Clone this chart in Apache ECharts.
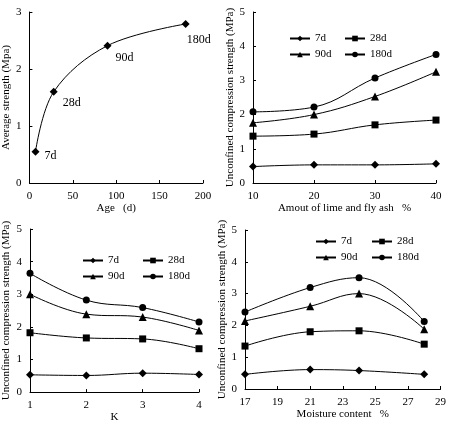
<!DOCTYPE html>
<html>
<head>
<meta charset="utf-8">
<script src="https://cdn.jsdelivr.net/npm/echarts@6/dist/echarts.min.js"></script>
<style>
  html, body { margin: 0; padding: 0; background: #fff; }
  #chart { width: 449px; height: 424px; }
</style>
</head>
<body>
<div id="chart"></div>
<script>
// panel a: strength vs age
var ageDays = [7, 28, 90, 180]
var ageStrength = [0.55, 1.6, 2.41, 2.79]
var ageLabels = ['7d', '28d', '90d', '180d']

var seriesNames = ['7d', '28d', '90d', '180d']

// panel b: amount of lime and fly ash
var dosage = [10, 20, 30, 40]
var dosage7d = [0.48, 0.53, 0.53, 0.56]
var dosage28d = [1.37, 1.43, 1.7, 1.84]
var dosage90d = [1.76, 2.0, 2.53, 3.25]
var dosage180d = [2.08, 2.22, 3.07, 3.76]

// panel c: K
var kValues = [1, 2, 3, 4]
var k7d = [0.53, 0.51, 0.58, 0.54]
var k28d = [1.82, 1.66, 1.63, 1.33]
var k90d = [3.0, 2.39, 2.3, 1.89]
var k180d = [3.64, 2.82, 2.59, 2.15]

// panel d: moisture content
var moisture = [17, 21, 24, 28]
var moist7d = [0.46, 0.61, 0.58, 0.46]
var moist28d = [1.35, 1.8, 1.83, 1.41]
var moist90d = [2.14, 2.6, 3.0, 1.88]
var moist180d = [2.42, 3.19, 3.5, 2.12]

var font = 'Liberation Serif'
var symbols = ['diamond', 'rect', 'triangle', 'circle']
var symbolSizes = [8, 7, 8, 7]

function pairs(xs, ys) {
  return xs.map(function (x, i) { return [x, ys[i]] })
}

function axisX(idx, min, max, interval, name, gap) {
  return {
    type: 'value', gridIndex: idx, min: min, max: max, interval: interval,
    name: name, nameLocation: 'middle', nameGap: gap,
    nameTextStyle: { color: '#000', fontFamily: font, fontSize: 11 },
    axisLine: { lineStyle: { color: '#000', width: 1 } },
    axisTick: { inside: true, length: 3, lineStyle: { color: '#000' } },
    axisLabel: { color: '#000', fontFamily: font, fontSize: 11, margin: 8 },
    splitLine: { show: false }
  }
}

function axisY(idx, max, name, gap) {
  return {
    type: 'value', gridIndex: idx, min: 0, max: max, interval: 1,
    name: name, nameLocation: 'middle', nameGap: gap, nameRotate: 90,
    nameTextStyle: { color: '#000', fontFamily: font, fontSize: 11 },
    axisLine: { show: true, lineStyle: { color: '#000', width: 1 } },
    axisTick: { show: true, inside: true, length: 3, lineStyle: { color: '#000' } },
    axisLabel: { color: '#000', fontFamily: font, fontSize: 11, margin: 8 },
    splitLine: { show: false }
  }
}

function lineSeries(idx, name, k, xs, ys) {
  return {
    name: name, type: 'line', xAxisIndex: idx, yAxisIndex: idx,
    data: pairs(xs, ys), smooth: 0.4,
    symbol: symbols[k], symbolSize: symbolSizes[k],
    lineStyle: { color: '#000', width: 1 },
    itemStyle: { color: '#000' },
    animation: false
  }
}

function legendPair(names, left, top) {
  return {
    data: names, left: left, top: top, orient: 'vertical',
    itemWidth: 20, itemHeight: 7, itemGap: 5,
    textStyle: { color: '#000', fontFamily: font, fontSize: 11 },
    selectedMode: false
  }
}

var labelOffsets = [[0, 4], [0, 11], [-1, 12], [-8, 16]]

var chart = echarts.init(document.getElementById('chart'))
var option = {
  backgroundColor: '#fff',
  animation: false,
  grid: [
    { left: 23, top: 12, width: 180, height: 171 },
    { left: 253, top: 12, width: 183, height: 171 },
    { left: 18, top: 229, width: 181, height: 166 },
    { left: 245, top: 230, width: 197, height: 159 }
  ],
  xAxis: [
    axisX(0, 0, 200, 50, 'Age   (d)', 20),
    axisX(1, 10, 40, 10, 'Amout of lime and fly ash   %', 18),
    axisX(2, 1, 4, 1, 'K', 18),
    axisX(3, 17, 29, 2, 'Moisture content   %', 18)
  ],
  yAxis: [
    axisY(0, 3, 'Average strength (Mpa)', 14),
    axisY(1, 5, 'Unconfined compression strength (MPa)', 15),
    axisY(2, 5, 'Unconfined compression strength (MPa)', 18),
    axisY(3, 5, 'Unconfined compression strength (MPa)', 15)
  ],
  legend: [
    legendPair(['7d', '90d'], 284, 28),
    legendPair(['28d', '180d'], 339, 28),
    legendPair(['7d', '90d'], 77, 250),
    legendPair(['28d', '180d'], 137, 250),
    legendPair(['7d', '90d'], 310, 231),
    legendPair(['28d', '180d'], 366, 231)
  ],
  series: [
    {
      type: 'line', xAxisIndex: 0, yAxisIndex: 0,
      data: pairs(ageDays, ageStrength).map(function (p, i) {
        return {
          value: p,
          label: { show: true, formatter: ageLabels[i], position: 'right', distance: 5, offset: labelOffsets[i] }
        }
      }),
      smooth: 0.35, symbol: 'diamond', symbolSize: 8,
      lineStyle: { color: '#000', width: 1 }, itemStyle: { color: '#000' },
      label: { color: '#000', fontFamily: font, fontSize: 12 }
    },
    lineSeries(1, '7d', 0, dosage, dosage7d),
    lineSeries(1, '28d', 1, dosage, dosage28d),
    lineSeries(1, '90d', 2, dosage, dosage90d),
    lineSeries(1, '180d', 3, dosage, dosage180d),
    lineSeries(2, '7d', 0, kValues, k7d),
    lineSeries(2, '28d', 1, kValues, k28d),
    lineSeries(2, '90d', 2, kValues, k90d),
    lineSeries(2, '180d', 3, kValues, k180d),
    lineSeries(3, '7d', 0, moisture, moist7d),
    lineSeries(3, '28d', 1, moisture, moist28d),
    lineSeries(3, '90d', 2, moisture, moist90d),
    lineSeries(3, '180d', 3, moisture, moist180d)
  ]
}
chart.setOption(option)
</script>
</body>
</html>
